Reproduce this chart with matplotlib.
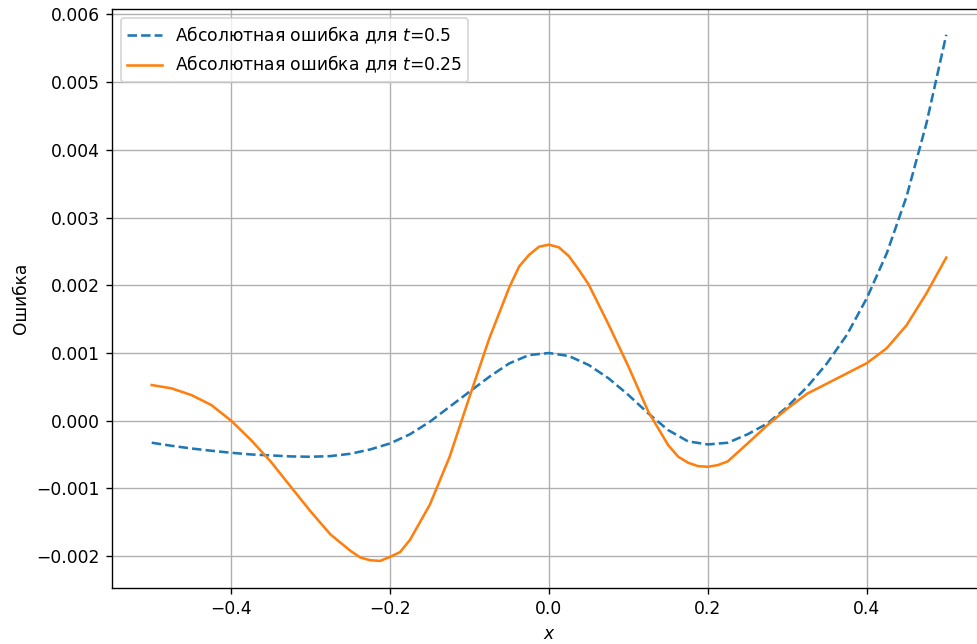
import numpy as np
import matplotlib
matplotlib.use("Agg")
import matplotlib.pyplot as plt

# absolute error, t = 0.5 (dashed)
x_05 = [-0.5, -0.475, -0.45, -0.425, -0.4, -0.375, -0.35, -0.325, -0.3, -0.275,
        -0.25, -0.225, -0.2, -0.175, -0.15, -0.125, -0.1, -0.075, -0.05, -0.025,
        0.0, 0.025, 0.05, 0.075, 0.1, 0.125, 0.15, 0.175, 0.2, 0.225,
        0.25, 0.275, 0.3, 0.325, 0.35, 0.375, 0.4, 0.425, 0.45, 0.475, 0.5]
err_05 = [-0.000325, -0.00037, -0.00041, -0.000443, -0.000473, -0.000498, -0.000512,
          -0.000527, -0.000532, -0.000522, -0.000488, -0.000424, -0.000335, -0.0002,
          -0.000015, 0.000207, 0.000429, 0.00065, 0.000847, 0.00097,
          0.001, 0.000956, 0.000823, 0.000626, 0.00038, 0.000108, -0.000138,
          -0.000305, -0.00035, -0.000325, -0.0002, -0.00004, 0.000207, 0.0005,
          0.00085, 0.00127, 0.00181, 0.00247, 0.00331, 0.00439, 0.0057]

# absolute error, t = 0.25 (solid)
x_025 = [-0.5, -0.475, -0.45, -0.425, -0.4, -0.375, -0.35, -0.325, -0.3, -0.275,
         -0.25, -0.2375, -0.225, -0.2125, -0.2, -0.1875, -0.175, -0.15, -0.125, -0.1,
         -0.075, -0.05, -0.0375, -0.025, -0.0125, 0.0, 0.0125, 0.025, 0.0375, 0.05,
         0.075, 0.1, 0.125, 0.15, 0.1625, 0.175, 0.1875, 0.2, 0.2125, 0.225,
         0.25, 0.275, 0.3, 0.325, 0.35, 0.375, 0.4, 0.425, 0.45, 0.475, 0.5]
err_025 = [0.000527, 0.000478, 0.000379, 0.000232, 0.0, -0.000286, -0.000606,
           -0.000975, -0.00134, -0.00168, -0.00192, -0.00202, -0.00206, -0.00207,
           -0.00201, -0.00194, -0.00176, -0.00124, -0.00053, 0.000355,
           0.00122, 0.00197, 0.00228, 0.00245, 0.00257, 0.0026, 0.00256, 0.00243,
           0.00223, 0.00201, 0.00142, 0.0008, 0.000133, -0.00036, -0.00053,
           -0.00062, -0.00067, -0.00068, -0.000655, -0.0006,
           -0.000335, -0.000064, 0.00018, 0.0004, 0.00055, 0.0007, 0.00085,
           0.00107, 0.00141, 0.00188, 0.00241]

dpi = 123
fig = plt.figure(figsize=(977 / dpi, 644 / dpi), dpi=dpi)
ax = fig.add_axes([112 / 977, 56 / 644, 874 / 977, 579 / 644])

ax.plot(x_05, err_05, '--', label='Абсолютная ошибка для $t$=0.5')
ax.plot(x_025, err_025, label='Абсолютная ошибка для $t$=0.25')

ax.set_ylim(-0.00247, 0.00608)
ax.set_xlabel('$x$')
ax.set_ylabel('Ошибка')
ax.legend(loc='upper left')
ax.grid(True)

fig.savefig('out.png', dpi=dpi)
